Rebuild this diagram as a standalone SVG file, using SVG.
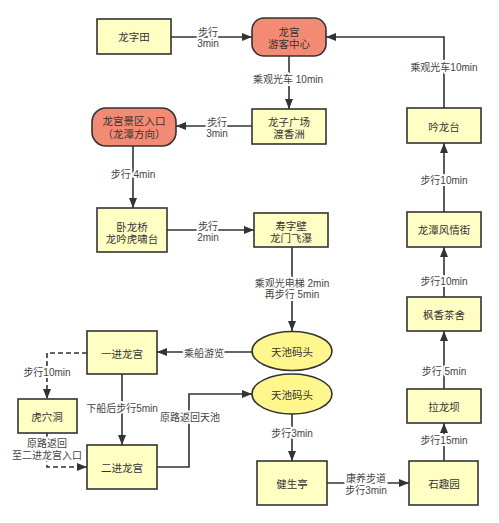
<svg xmlns="http://www.w3.org/2000/svg" width="499" height="523" viewBox="0 0 499 523">
<defs>
<marker id="ah" viewBox="0 0 10 8" refX="10" refY="4" markerWidth="10" markerHeight="8" markerUnits="userSpaceOnUse" orient="auto">
<path d="M0,0 L10,4 L0,8 z" fill="#333"/>
</marker>
</defs>
<style>
.box{fill:#FFFFC4;stroke:#333;stroke-width:1.6}
.red{fill:#F38B74;stroke:#333;stroke-width:1.6}
.ell{fill:#FFF68C;stroke:#333;stroke-width:1.6}
.t{font-family:"Liberation Sans","Noto Sans CJK SC",sans-serif;font-size:10.5px;fill:#333;text-anchor:middle;dominant-baseline:central}
.c{fill:none;stroke:#333;stroke-width:1.6}
.d{stroke-dasharray:5,3}
.l{font-family:"Liberation Sans","Noto Sans CJK SC",sans-serif;font-size:10px;fill:#444;text-anchor:middle;dominant-baseline:central;stroke:#fff;stroke-width:4;paint-order:stroke;stroke-linejoin:round}
</style>
<rect width="499" height="523" fill="#fff"/>
<g id="connectors">
<path class="c" d="M171,37 H252" marker-end="url(#ah)"/>
<path class="c" d="M289,56 V109" marker-end="url(#ah)"/>
<path class="c" d="M252,126 H176" marker-end="url(#ah)"/>
<path class="c" d="M133,146 V208" marker-end="url(#ah)"/>
<path class="c" d="M167,230 H254" marker-end="url(#ah)"/>
<path class="c" d="M292,247 V331" marker-end="url(#ah)"/>
<path class="c" d="M252,352 H157" marker-end="url(#ah)"/>
<path class="c d" d="M87,353 H47 V399" marker-end="url(#ah)"/>
<path class="c d" d="M47,433 V467 H87" marker-end="url(#ah)"/>
<path class="c" d="M122,374 V445" marker-end="url(#ah)"/>
<path class="c" d="M157,467 H189 V394 H252" marker-end="url(#ah)"/>
<path class="c" d="M292,414 V461" marker-end="url(#ah)"/>
<path class="c" d="M327,483 H409" marker-end="url(#ah)"/>
<path class="c" d="M444,461 V423" marker-end="url(#ah)"/>
<path class="c" d="M444,389 V331" marker-end="url(#ah)"/>
<path class="c" d="M444,297 V247" marker-end="url(#ah)"/>
<path class="c" d="M444,212 V143" marker-end="url(#ah)"/>
<path class="c" d="M444,108 V37 H326" marker-end="url(#ah)"/>
<text class="l" x="208" y="32">步行</text>
<text class="l" x="208" y="43">3min</text>
<text class="l" x="288" y="79">乘观光车 10min</text>
<text class="l" x="217" y="122">步行</text>
<text class="l" x="217" y="133">3min</text>
<text class="l" x="133" y="174">步行 4min</text>
<text class="l" x="208" y="226">步行</text>
<text class="l" x="208" y="237">2min</text>
<text class="l" x="292" y="283">乘观光电梯 2min</text>
<text class="l" x="292" y="294">再步行 5min</text>
<text class="l" x="204" y="353">乘船游览</text>
<text class="l" x="47" y="372">步行10min</text>
<text class="l" x="47" y="443">原路返回</text>
<text class="l" x="47" y="455">至二进龙宫入口</text>
<text class="l" x="122" y="408">下船后步行5min</text>
<text class="l" x="190" y="417">原路返回天池</text>
<text class="l" x="292" y="433">步行3min</text>
<text class="l" x="366" y="478">康养步道</text>
<text class="l" x="366" y="490">步行3min</text>
<text class="l" x="444" y="440">步行15min</text>
<text class="l" x="444" y="371">步行 5min</text>
<text class="l" x="444" y="281">步行10min</text>
<text class="l" x="444" y="180">步行10min</text>
<text class="l" x="444" y="67">乘观光车10min</text>
</g>
<g id="n1"><rect class="box" x="97" y="19" width="74" height="35"/><text class="t" x="134" y="37">龙字田</text></g>
<g id="n2"><rect class="red" x="252" y="18" width="74" height="38" rx="12"/><text class="t" x="289" y="32">龙宫</text><text class="t" x="289" y="44">游客中心</text></g>
<g id="n3"><rect class="box" x="252" y="109" width="74" height="35"/><text class="t" x="289" y="122">龙子广场</text><text class="t" x="289" y="134">渡香洲</text></g>
<g id="n4"><rect class="red" x="92" y="108" width="84" height="38" rx="14"/><text class="t" x="134" y="121">龙宫景区入口</text><text class="t" x="134" y="134">（龙潭方向）</text></g>
<g id="n5"><rect class="box" x="97" y="208" width="70" height="44"/><text class="t" x="132" y="227">卧龙桥</text><text class="t" x="132" y="239">龙吟虎啸台</text></g>
<g id="n6"><rect class="box" x="254" y="213" width="74" height="34"/><text class="t" x="291" y="226">寿字壁</text><text class="t" x="291" y="238">龙门飞瀑</text></g>
<g id="n7"><ellipse class="ell" cx="292" cy="351" rx="40" ry="19.5"/><text class="t" x="292" y="352">天池码头</text></g>
<g id="n8"><ellipse class="ell" cx="292" cy="394" rx="40" ry="20"/><text class="t" x="292" y="395">天池码头</text></g>
<g id="n9"><rect class="box" x="87" y="331" width="70" height="43"/><text class="t" x="122" y="354">一进龙宫</text></g>
<g id="n10"><rect class="box" x="18" y="399" width="59" height="34"/><text class="t" x="47" y="417">虎穴洞</text></g>
<g id="n11"><rect class="box" x="87" y="445" width="70" height="44"/><text class="t" x="122" y="468">二进龙宫</text></g>
<g id="n12"><rect class="box" x="257" y="461" width="70" height="44"/><text class="t" x="292" y="484">健生亭</text></g>
<g id="n13"><rect class="box" x="409" y="461" width="69" height="44"/><text class="t" x="444" y="484">石趣园</text></g>
<g id="n14"><rect class="box" x="407" y="389" width="74" height="34"/><text class="t" x="444" y="407">拉龙坝</text></g>
<g id="n15"><rect class="box" x="407" y="297" width="74" height="34"/><text class="t" x="444" y="315">枫香茶舍</text></g>
<g id="n16"><rect class="box" x="407" y="212" width="74" height="35"/><text class="t" x="444" y="230">龙潭风情街</text></g>
<g id="n17"><rect class="box" x="407" y="108" width="74" height="35"/><text class="t" x="444" y="127">吟龙台</text></g>
</svg>
